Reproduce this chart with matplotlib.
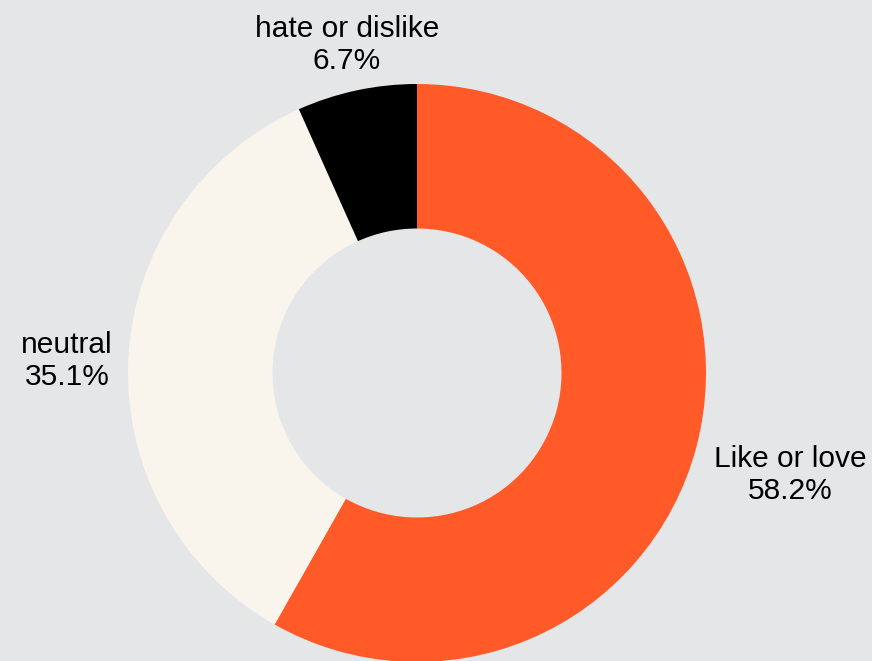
import matplotlib
matplotlib.use("Agg")
import matplotlib.pyplot as plt

categories = ["Like or love", "neutral", "hate or dislike"]
values = [58.2, 35.1, 6.7]
colors = ["#FF5A28", "#FAF5EC", "#000000"]
bg = "#E5E6E8"

W, H = 872, 661
fig = plt.figure(figsize=(W / 100, H / 100), dpi=100, facecolor=bg)
ax = fig.add_axes([0, 0, 1, 1])
ax.set_facecolor(bg)

cx, cy, R = 417, 373, 289
ax.pie(values, colors=colors, startangle=90, counterclock=False, radius=1,
       wedgeprops=dict(width=0.5, linewidth=0))
ax.set_xlim(-cx / R, (W - cx) / R)
ax.set_ylim(-(H - cy) / R, cy / R)
ax.set_aspect("equal")
ax.axis("off")

label_px = [(790, 475), (67, 361), (347, 45)]
for cat, v, (px, py) in zip(categories, values, label_px):
    ax.text((px - cx) / R, (cy - py) / R, f"{cat}\n{v}%", ha="center", va="center",
            fontsize=21.5, family=["Liberation Sans", "DejaVu Sans"], linespacing=1.2,
            color="#000000")

fig.savefig("out.png", dpi=100, facecolor=bg)
